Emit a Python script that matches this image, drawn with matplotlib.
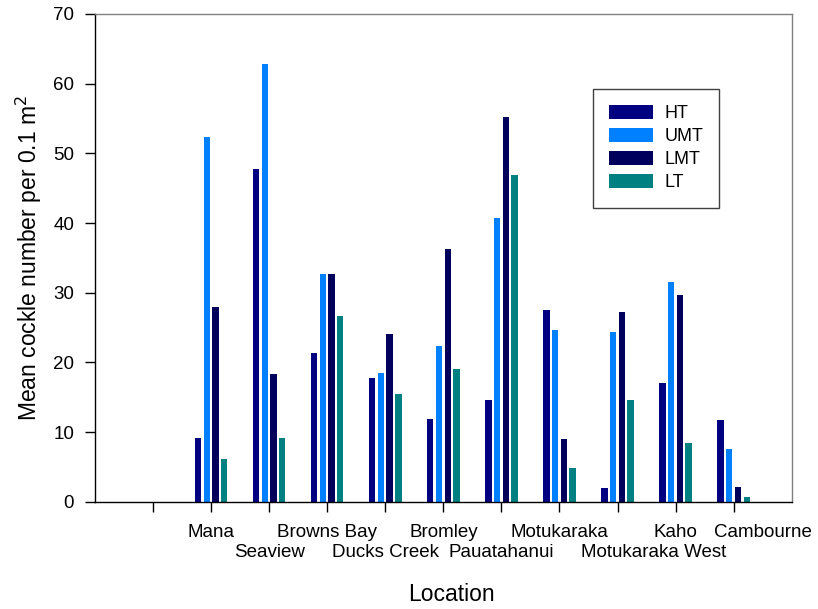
import numpy as np
import matplotlib.pyplot as plt
from matplotlib.transforms import ScaledTranslation

plt.rcParams['font.family'] = ['Liberation Sans', 'DejaVu Sans']

# sites along the shore; first slot is left blank
locations = ['', 'Mana', 'Seaview', 'Browns Bay', 'Ducks Creek', 'Bromley',
             'Pauatahanui', 'Motukaraka', 'Motukaraka West', 'Kaho', 'Cambourne']

ht = [9.2, 47.8, 21.3, 17.7, 11.8, 14.6, 27.5, 1.9, 17.1, 11.7]
umt = [52.3, 62.8, 32.7, 18.5, 22.3, 40.7, 24.7, 24.3, 31.5, 7.6]
lmt = [28.0, 18.4, 32.7, 24.1, 36.2, 55.2, 9.0, 27.2, 29.7, 2.1]
lt = [6.2, 9.1, 26.7, 15.4, 19.1, 46.9, 4.9, 14.6, 8.4, 0.7]

series = [('HT', ht, '#000080'),
          ('UMT', umt, '#0080ff'),
          ('LMT', lmt, '#00005c'),
          ('LT', lt, '#008080')]

fig = plt.figure(figsize=(8.18, 6.09), dpi=100)
ax = fig.add_axes([95/818, 1-501.7/609, (791.7-95)/818, (501.7-14)/609])

x = np.arange(1, len(locations))
step = 0.15
for i, (name, vals, col) in enumerate(series):
    ax.bar(x + (i - 1.5)*step, vals, width=0.11, color=col, label=name,
           edgecolor='none')

ax.set_xlim(-1, 11)
ax.set_ylim(0, 70)
ax.set_yticks(range(0, 71, 10))
ax.set_xticks(range(len(locations)))
ax.set_xticklabels(locations)
ax.tick_params(axis='both', direction='out', length=7, width=1, labelsize=13.5)
ax.tick_params(axis='x', pad=9)
ax.tick_params(axis='y', pad=8)

# stagger names on two rows, and nudge the two crowded ones on the right
shifts = {2: (0, -20), 4: (0, -20), 6: (0, -20), 8: (36, -20), 10: (29, 0)}
for idx, lab in enumerate(ax.get_xticklabels()):
    if idx in shifts:
        dx, dy = shifts[idx]
        lab.set_transform(lab.get_transform() +
                          ScaledTranslation(dx/100, dy/100, fig.dpi_scale_trans))

for s in ['top', 'right']:
    ax.spines[s].set_color('#808080')
for s in ax.spines.values():
    s.set_linewidth(1)

ax.set_ylabel('Mean cockle number per 0.1 m$^2$', fontsize=16.5)
ax.yaxis.set_label_coords(-(95-44)/696.7, 0.5)
ax.set_xlabel('Location', fontsize=16.5)
ax.xaxis.set_label_coords((451.7-95)/696.7, -(583-501.7)/487.7)

ax.legend(loc='upper left', bbox_to_anchor=(593/818, 1-89/609),
          bbox_transform=fig.transFigure, borderaxespad=0, fontsize=13,
          frameon=True, fancybox=False, edgecolor='#404040', framealpha=1,
          handlelength=2.45, handleheight=0.8, handletextpad=0.6,
          labelspacing=0.32, borderpad=0.9)

fig.savefig('out.png', dpi=100)
